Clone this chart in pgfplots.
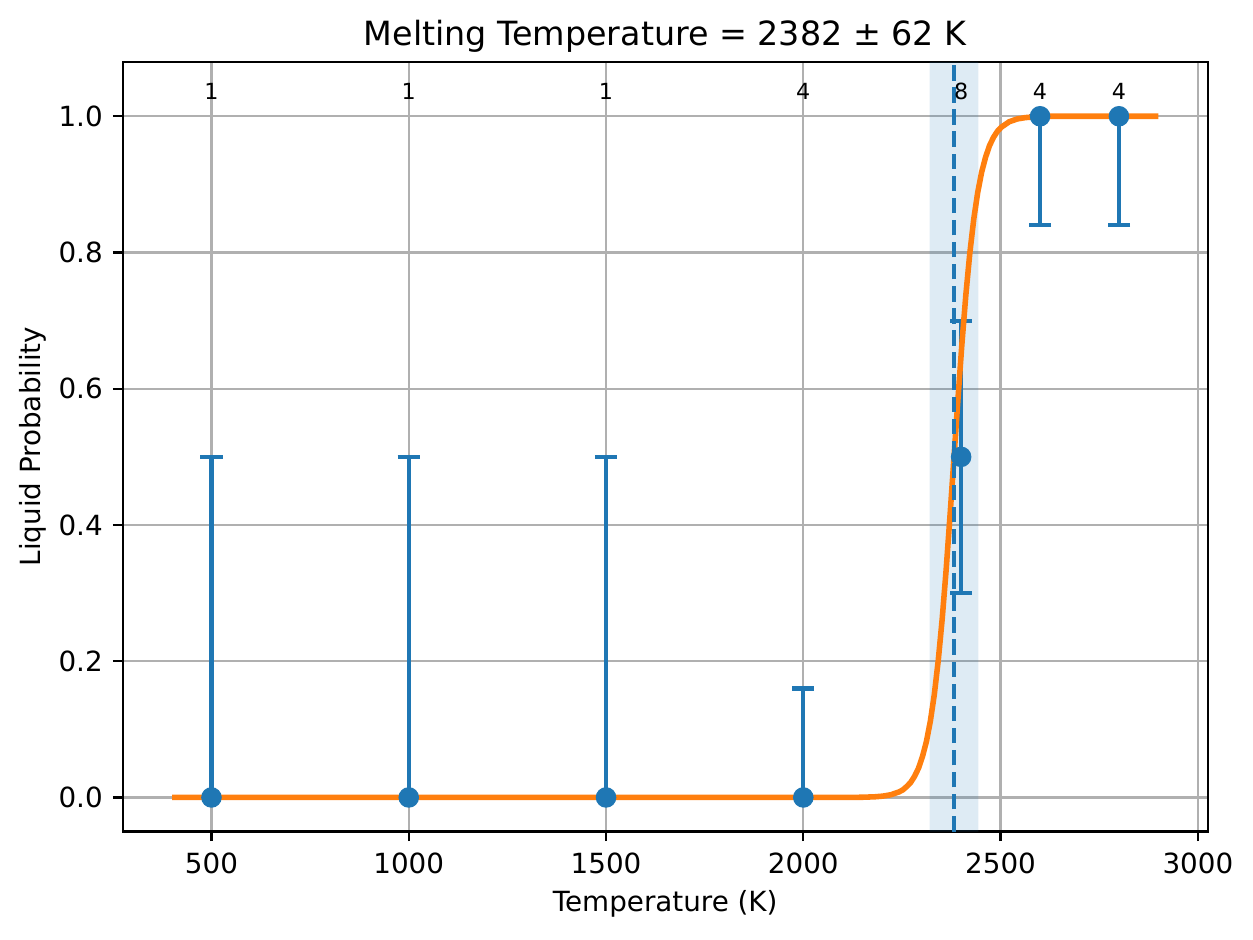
\documentclass[border=0pt]{standalone}
\usepackage{fontspec}
\setmainfont{DejaVu Sans}
\usepackage{pgfplots}
\pgfplotsset{compat=1.18}
\definecolor{mblue}{HTML}{1F77B4}
\definecolor{morange}{HTML}{FF7F0E}
\definecolor{mgrid}{HTML}{B0B0B0}
\begin{document}
\begin{tikzpicture}
\begin{axis}[
  at={(0,0)}, anchor=south west,
  width=390.6bp, height=277.1bp, scale only axis,
  xmin=275, xmax=3025, ymin=-0.05, ymax=1.08,
  xtick={500,1000,1500,2000,2500,3000},
  ytick={0,0.2,0.4,0.6,0.8,1.0},
  /pgf/number format/assume math mode=true,
  /pgf/number format/set thousands separator={},
  yticklabel style={/pgf/number format/fixed, /pgf/number format/fixed zerofill, /pgf/number format/precision=1,
     anchor=east, inner sep=0pt, xshift=-3.5bp},
  xticklabel style={anchor=base, inner sep=0pt, yshift=-11.55bp},
  ticklabel style={font=\fontsize{10bp}{12bp}\selectfont},
  tick align=outside, tick pos=left,
  major tick length=3.5bp,
  every tick/.style={black, line width=0.8bp},
  axis line style={line width=0.8bp, black},
  grid=major,
  major grid style={line width=0.8bp, color=mgrid},
  title={Melting Temperature = 2382 ± 62 K},
  title style={at={(0.5,1)}, anchor=base, inner sep=0pt, yshift=-0.22bp, font=\fontsize{12bp}{14.4bp}\selectfont},
  xlabel={Temperature (K)},
  xlabel style={at={(axis description cs:0.5,-0.1043)}, anchor=base, inner sep=0pt, font=\fontsize{10bp}{12bp}\selectfont},
  ylabel={Liquid Probability},
  ylabel style={at={(axis description cs:-0.0758,0.5)}, rotate=0, anchor=base, inner sep=0pt, font=\fontsize{10bp}{12bp}\selectfont},
  clip=true,
]
% shaded uncertainty band
\addplot[draw=none, fill=mblue, fill opacity=0.15, forget plot]
  coordinates {(2320,-0.05) (2444,-0.05) (2444,1.08) (2320,1.08)} \closedcycle;
% error bars
\addplot[mblue, line width=1.5bp, draw=none, mark=none,
  error bars/.cd, y dir=both, y explicit,
  error bar style={line width=1.5bp, mblue},
  error mark options={line width=1.5bp, mblue, mark size=4bp, rotate=90}]
  coordinates {
  (500,0) += (0,0.5) -= (0,0)
  (1000,0) += (0,0.5) -= (0,0)
  (1500,0) += (0,0.5) -= (0,0)
  (2000,0) += (0,0.16) -= (0,0)
  (2400,0.5) += (0,0.2) -= (0,0.2)
  (2600,1.0) += (0,0) -= (0,0.16)
  (2800,1.0) += (0,0) -= (0,0.16)
  };
% fitted curve
\addplot[morange, line width=2bp, mark=none] coordinates {
 (400,0) (2000,0.0000) (2100,0.0001) (2150,0.0003) (2182,0.001) (2202,0.002) (2222,0.004) (2242,0.008)
 (2252,0.011) (2262,0.016) (2272,0.022) (2282,0.031) (2292,0.043) (2302,0.060) (2312,0.082)
 (2322,0.112) (2332,0.151) (2342,0.201) (2352,0.262) (2362,0.334) (2372,0.415) (2382,0.5)
 (2392,0.585) (2402,0.666) (2412,0.738) (2422,0.799) (2432,0.849) (2442,0.888) (2452,0.918)
 (2462,0.940) (2472,0.957) (2482,0.969) (2492,0.978) (2502,0.984) (2522,0.992) (2542,0.996)
 (2562,0.998) (2582,0.999) (2620,1.0) (2900,1.0)
};
% markers
\addplot[only marks, mark=*, mark size=3.5bp, mblue, mark options={draw=mblue, fill=mblue}] coordinates {
 (500,0) (1000,0) (1500,0) (2000,0) (2400,0.5) (2600,1.0) (2800,1.0)
};
% melting temperature line
\addplot[mblue, line width=1.5bp, dash pattern=on 5.55bp off 2.4bp, mark=none]
  coordinates {(2382,-0.05) (2382,1.08)};
% counts
\addplot[draw=none, mark=none, nodes near coords={\pgfplotspointmeta}, point meta=explicit symbolic,
  nodes near coords style={anchor=base, inner sep=0pt, yshift=0pt, black, font=\fontsize{8bp}{9.6bp}\selectfont}]
  coordinates {
  (500,1.025) [1]
  (1000,1.025) [1]
  (1500,1.025) [1]
  (2000,1.025) [4]
  (2400,1.025) [8]
  (2600,1.025) [4]
  (2800,1.025) [4]
  };
\end{axis}
\useasboundingbox (-44.17bp,-38.7bp) rectangle (406.9bp,299.34bp);
\end{tikzpicture}
\end{document}
